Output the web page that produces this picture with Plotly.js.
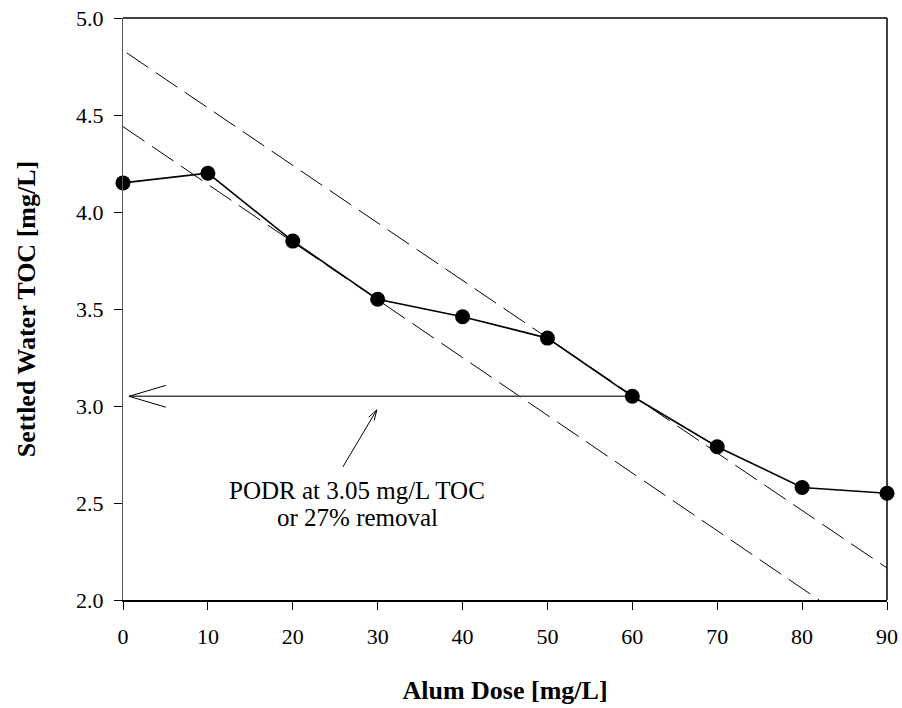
<!DOCTYPE html>
<html>
<head>
<meta charset="utf-8">
<script src="https://cdn.plot.ly/plotly-3.0.1.min.js"></script>
<style>
  html, body { margin: 0; padding: 0; background: #ffffff; }
  #chart { width: 902px; height: 708px; }
</style>
</head>
<body>
<div id="chart"></div>
<script>
// Measured data (alum jar test)
const alumDose = [0, 10, 20, 30, 40, 50, 60, 70, 80, 90];
const settledTOC = [4.15, 4.2, 3.85, 3.55, 3.46, 3.35, 3.05, 2.79, 2.58, 2.55];

// Dashed tangent lines (endpoints)
const upperLineX = [0.45, 90];
const upperLineY = [4.82, 2.165];
const lowerLineX = [0, 82];
const lowerLineY = [4.44, 2.0];

// PODR marker: horizontal arrow from the data point back to the axis
const podrDose = 60;
const podrTOC = 3.05;
const podrArrowEndX = 0.7;

// Callout text and its pointer
const calloutLines = ["PODR at 3.05 mg/L TOC", "or 27% removal"];
const pointerTip = [29.9, 2.98];
const pointerTail = [25.9, 2.686];
const calloutX = 27.6;
const calloutY = [2.566, 2.426];

const xTicks = [0, 10, 20, 30, 40, 50, 60, 70, 80, 90];
const yTicks = [2.0, 2.5, 3.0, 3.5, 4.0, 4.5, 5.0];
const yTickText = ["2.0", "2.5", "3.0", "3.5", "4.0", "4.5", "5.0"];

const W = 902, H = 708;
const margin = { l: 123, r: 15, t: 18, b: 108 };
const xRange = [0, 90], yRange = [2, 5];
const pxPerX = (W - margin.l - margin.r) / (xRange[1] - xRange[0]);
const pxPerY = (H - margin.t - margin.b) / (yRange[1] - yRange[0]);

const serif = "Liberation Serif";

const traces = [
  {
    x: upperLineX, y: upperLineY, type: "scatter", mode: "lines",
    line: { color: "#000", width: 1, dash: "26px,9px" },
    hoverinfo: "skip", showlegend: false
  },
  {
    x: lowerLineX, y: lowerLineY, type: "scatter", mode: "lines",
    line: { color: "#000", width: 1, dash: "26px,9px" },
    hoverinfo: "skip", showlegend: false
  },
  {
    x: [podrDose, podrArrowEndX], y: [podrTOC, podrTOC], type: "scatter", mode: "lines",
    line: { color: "#444", width: 1.5 },
    hoverinfo: "skip", showlegend: false
  },
  {
    x: alumDose, y: settledTOC, type: "scatter", mode: "lines+markers",
    line: { color: "#000", width: 1.6 },
    marker: { color: "#000", size: 15 },
    cliponaxis: false, showlegend: false
  }
];

// open V arrowheads drawn as pixel-sized paths anchored at the tips
function vHead(tipX, tipY, dirXpx, dirYpx, len, halfAngleDeg) {
  const th = Math.atan2(dirYpx, dirXpx);
  const ph = halfAngleDeg * Math.PI / 180;
  const a1 = [-len * Math.cos(th - ph), -len * Math.sin(th - ph)];
  const a2 = [-len * Math.cos(th + ph), -len * Math.sin(th + ph)];
  return {
    type: "path", xref: "x", yref: "y",
    xsizemode: "pixel", ysizemode: "pixel",
    xanchor: tipX, yanchor: tipY,
    path: "M" + a1[0].toFixed(2) + "," + a1[1].toFixed(2) + " L0,0 L" + a2[0].toFixed(2) + "," + a2[1].toFixed(2),
    line: { color: "#000", width: 1 }
  };
}

const bigHead = vHead(podrArrowEndX, podrTOC, -1, 0, 38.5, 16.5);
const ptrDx = (pointerTip[0] - pointerTail[0]) * pxPerX;
const ptrDy = (pointerTip[1] - pointerTail[1]) * pxPerY;
const smallHead = vHead(pointerTip[0], pointerTip[1], ptrDx, ptrDy, 11, 17);

const pointerShape = {
  type: "line", xref: "x", yref: "y",
  x0: pointerTail[0], y0: pointerTail[1], x1: pointerTip[0], y1: pointerTip[1],
  line: { color: "#000", width: 1 }
};

const rightBorder = {
  type: "line", xref: "paper", yref: "paper", x0: 1, x1: 1, y0: 0, y1: 1,
  line: { color: "#000", width: 1.5 }
};

const annotations = calloutLines.map((t, i) => ({
  x: calloutX, y: calloutY[i], xref: "x", yref: "y",
  text: t, showarrow: false,
  font: { family: serif, size: 25, color: "#000" },
  xanchor: "center", yanchor: "middle"
}));

const layout = {
  width: W, height: H,
  margin: margin,
  paper_bgcolor: "#fff", plot_bgcolor: "#fff",
  font: { family: serif, color: "#000" },
  showlegend: false,
  xaxis: {
    range: xRange, tickvals: xTicks, ticktext: xTicks.map(String),
    ticks: "outside", ticklen: 8, tickwidth: 1, tickcolor: "#000",
    ticklabelstandoff: 8,
    showgrid: false, zeroline: false,
    showline: true, linecolor: "#000", linewidth: 1.5, mirror: false,
    tickfont: { family: serif, size: 22, color: "#000" },
    title: { text: "<b>Alum Dose [mg/L]</b>", font: { family: serif, size: 26, color: "#000" }, standoff: 33 },
    fixedrange: true
  },
  yaxis: {
    range: yRange, tickvals: yTicks, ticktext: yTickText,
    ticks: "outside", ticklen: 8, tickwidth: 1, tickcolor: "#000",
    ticklabelstandoff: 6,
    showgrid: false, zeroline: false,
    showline: true, linecolor: "#555", linewidth: 1, mirror: false,
    tickfont: { family: serif, size: 22, color: "#000" },
    title: { text: "<b>Settled Water TOC [mg/L]</b>", font: { family: serif, size: 26, color: "#000" }, standoff: 32 },
    fixedrange: true
  },
  shapes: [
    { type: "line", xref: "paper", yref: "paper", x0: 0, x1: 1, y0: 1, y1: 1, line: { color: "#000", width: 1.5 } },
    rightBorder, bigHead, pointerShape, smallHead
  ],
  annotations: annotations
};

Plotly.newPlot("chart", traces, layout, { staticPlot: true, displayModeBar: false });
</script>
</body>
</html>
